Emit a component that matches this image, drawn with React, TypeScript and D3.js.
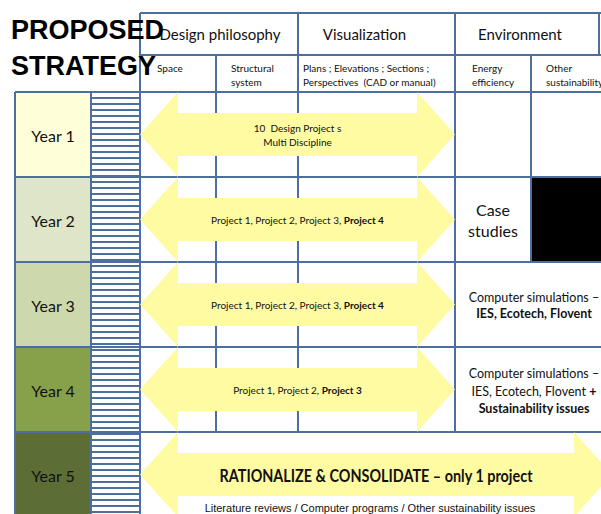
import React from 'react';
import * as d3 from 'd3';

// ---- data ----
const years = ['Year 1', 'Year 2', 'Year 3', 'Year 4', 'Year 5'];
const yearFills = ['#fefed8', '#dfe5c7', '#cdd9ad', '#87a14b', '#5c6e35'];

const mainHeaders = ['Design philosophy', 'Visualization', 'Environment'];
const subHeaders = [
  ['Space'],
  ['Structural', 'system'],
  ['Plans ; Elevations ; Sections ;', 'Perspectives \u00a0(CAD or manual)'],
  ['Energy', 'efficiency'],
  ['Other', 'sustainability'],
];

type Seg = { t: string; b?: boolean };
const arrowTexts: Seg[][][] = [
  [[{ t: '10 \u00a0Design Project s' }], [{ t: 'Multi Discipline' }]],
  [[{ t: 'Project 1, Project 2, Project 3, ' }, { t: 'Project 4', b: true }]],
  [[{ t: 'Project 1, Project 2, Project 3, ' }, { t: 'Project 4', b: true }]],
  [[{ t: 'Project 1, Project 2, ' }, { t: 'Project 3', b: true }]],
];
const finalTitle = 'RATIONALIZE & CONSOLIDATE \u2013 only 1 project';
const finalSub = 'Literature reviews / Computer programs / Other sustainability issues';

const envNotes: Seg[][][] = [
  [],
  [[{ t: 'Case' }], [{ t: 'studies' }]],
  [[{ t: 'Computer simulations \u2013' }], [{ t: 'IES, Ecotech, Flovent', b: true }]],
  [[{ t: 'Computer simulations \u2013' }], [{ t: 'IES, Ecotech, Flovent ' }, { t: '+', b: true }], [{ t: 'Sustainability issues', b: true }]],
];

// ---- layout ----
const W = 601, H = 514;
const FONT = 'Lato, "Open Sans", sans-serif';
const ARIAL = '"Liberation Sans", Arial, sans-serif';
const LINE = '#4d6f9e';
const ARROW = '#fffba3';

const row = d3.scaleLinear().domain([0, years.length]).range([92, 517]);
const rowH = row(1) - row(0);
// column edges: year, stripes, space, structural, plans, energy, other, (past edge)
const colEdges = [15, 91, 140, 216, 298, 455, 531, 612];

function arrowPath(x0: number, x1: number, y0: number, y1: number, head: number, inset: number) {
  const ym = (y0 + y1) / 2;
  const p = d3.path();
  p.moveTo(x0, ym);
  p.lineTo(x0 + head, y0);
  p.lineTo(x0 + head, y0 + inset);
  p.lineTo(x1 - head, y0 + inset);
  p.lineTo(x1 - head, y0);
  p.lineTo(x1, ym);
  p.lineTo(x1 - head, y1);
  p.lineTo(x1 - head, y1 - inset);
  p.lineTo(x0 + head, y1 - inset);
  p.lineTo(x0 + head, y1);
  p.closePath();
  return p.toString();
}

function Lines({ lines, x, y, size, gap, anchor = 'middle', family = FONT, color = '#111' }: any) {
  return (
    <text x={x} y={y} fontFamily={family} fontSize={size} textAnchor={anchor} fill={color}>
      {lines.map((segs: Seg[], i: number) => (
        <tspan key={i} x={x} dy={i === 0 ? 0 : gap}>
          {segs.map((s, j) => (
            <tspan key={j} fontWeight={s.b ? 'bold' : 'normal'}>{s.t}</tspan>
          ))}
        </tspan>
      ))}
    </text>
  );
}

export default function App() {
  const [xYear, xStripe, xGrid, xStruct, xPlans, xEnergy, xOther, xEnd] = colEdges;
  const gridBottom = row(4);
  const stripes = d3.range(row(0) - 6 * 15, H + 6, 6).filter((y) => y > row(0) && y < H + 4);

  const hLines: [number, number, number][] = [
    [13, xGrid, W],
    [55, xGrid, W],
    ...d3.range(0, 5).map((i) => [row(i), xYear, W] as [number, number, number]),
  ];
  const vLines: [number, number, number][] = [
    [xYear, row(0), H + 4],
    [xStripe, row(0), H + 4],
    [xGrid, 13, H + 4],
    [xStruct, 55, gridBottom],
    [xPlans, 13, gridBottom],
    [xEnergy, 13, gridBottom],
    [xOther, 55, row(2)],
    [599, 13, 55],
  ];

  const subX = [xGrid, xStruct, xPlans, xEnergy, xOther];
  const subDx = [17, 15, 5, 17, 15];
  const mainX = [(xGrid + xPlans) / 2 + 1, (xPlans + xEnergy) / 2 - 12, (xEnergy + 601) / 2 - 8];

  return (
    <svg width={W} height={H} style={{ position: 'absolute', left: 0, top: 0, background: '#fff' }}>
      <rect width={W} height={H} fill="#fff" />

      {/* year cells */}
      {years.map((y, i) => (
        <rect key={y} x={xYear} y={row(i)} width={xStripe - xYear} height={rowH} fill={yearFills[i]} />
      ))}

      {/* striped column */}
      {stripes.map((y, i) => (
        <line key={i} x1={xStripe} x2={xGrid} y1={y} y2={y} stroke={LINE} strokeWidth={2} />
      ))}

      {/* black cell */}
      <rect x={xOther} y={row(1)} width={W - xOther} height={rowH} fill="#000" />

      {/* grid */}
      {hLines.map(([y, a, b], i) => (
        <line key={'h' + i} x1={a} x2={b} y1={y} y2={y} stroke={LINE} strokeWidth={2} />
      ))}
      {vLines.map(([x, a, b], i) => (
        <line key={'v' + i} x1={x} x2={x} y1={a} y2={b} stroke={LINE} strokeWidth={2} />
      ))}

      {/* arrows */}
      {years.map((_, i) => (
        <path
          key={'a' + i}
          d={arrowPath(xGrid, i === 4 ? xEnd : xEnergy, row(i), row(i + 1), 38, 21)}
          fill={ARROW}
        />
      ))}

      {/* headers */}
      {mainHeaders.map((h, i) => (
        <text key={h} x={mainX[i]} y={40} fontFamily={FONT} fontSize={15} textAnchor="middle" fill="#111">{h}</text>
      ))}
      {subHeaders.map((lines, i) => (
        <Lines key={i} lines={lines.map((t) => [{ t }])} x={subX[i] + subDx[i]} y={72} size={10} gap={13.5} anchor="start" />
      ))}

      {/* year labels */}
      {years.map((y, i) => (
        <text key={'l' + y} x={(xYear + xStripe) / 2} y={(row(i) + row(i + 1)) / 2 + 7} fontFamily={FONT} fontSize={16} textAnchor="middle" fill="#111">{y}</text>
      ))}

      {/* arrow texts */}
      {arrowTexts.map((lines, i) => {
        const cy = (row(i) + row(i + 1)) / 2;
        const y0 = cy + 4 - ((lines.length - 1) * 14) / 2;
        return <Lines key={'t' + i} lines={lines} x={(xGrid + xEnergy) / 2} y={y0} size={10} gap={14} />;
      })}
      <text x={(xGrid + xEnd) / 2} y={row(4) + 50} fontFamily={FONT} fontSize={16.5} fontWeight="bold" textAnchor="middle" fill="#111" textLength={313} lengthAdjust="spacingAndGlyphs">{finalTitle}</text>
      <text x={(xGrid + xEnd) / 2 - 6} y={row(4) + 80} fontFamily={ARIAL} fontSize={11} textAnchor="middle" fill="#111">{finalSub}</text>

      {/* environment notes */}
      <Lines lines={envNotes[1]} x={(xEnergy + xOther) / 2} y={row(1) + 39} size={16} gap={21} />
      <Lines lines={envNotes[2]} x={534} y={row(2) + 40} size={12.5} gap={16} />
      <Lines lines={envNotes[3]} x={534} y={row(3) + 31} size={12.5} gap={17.5} />

      {/* title */}
      <text x={11} y={39} fontFamily={ARIAL} fontSize={27} fontWeight="bold" fill="#000">PROPOSED</text>
      <text x={11} y={75} fontFamily={ARIAL} fontSize={27} fontWeight="bold" fill="#000">STRATEGY</text>
    </svg>
  );
}
